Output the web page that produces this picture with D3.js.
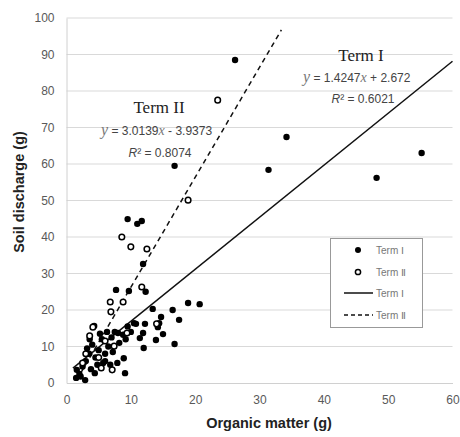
<!DOCTYPE html>
<html><head><meta charset="utf-8">
<script src="https://cdn.jsdelivr.net/npm/d3@7"></script>
<style>body{margin:0;background:#fff}svg{display:block}</style>
</head><body>
<svg id="c" width="460" height="437"></svg>
<script>
const xTicks=[0,10,20,30,40,50,60];
const yTicks=[0,10,20,30,40,50,60,70,80,90,100];
const term1X=[26.2,34.2,31.4,48.2,55.2,16.8,9.5,11.0,11.7,11.9,12.3,7.7,9.7,13.4,16.5,18.9,20.7,17.5,14.7,14.4,14.2,15.0,13.9,16.8,12.0,11.4,11.9,10.8,12.2,10.5,8.8,8.0,8.9,7.9,9.1,5.7,4.4,2.9,1.5,1.6,4.3,2.0,2.5,3.0,3.5,3.2,4.0,4.5,5.0,5.5,6.0,6.5,7.0,7.5,6.0,4.8,3.8,2.2,3.6,5.2,6.3,9.2,10.0,8.2,7.2,6.8,9.5];
const term1Y=[88.5,67.4,58.4,56.2,63.0,59.5,44.9,43.6,44.4,32.6,25.0,25.5,25.2,20.3,20.0,21.9,21.6,17.3,18.1,16.4,15.3,13.4,11.8,10.7,9.6,12.3,13.7,16.2,16.2,16.4,13.2,13.7,6.8,5.5,2.7,5.5,2.7,0.8,1.4,3.6,15.6,2.5,4.5,6.0,8.0,9.5,10.5,7.0,9.0,12.0,8.0,10.0,12.5,14.0,6.0,5.0,3.8,1.8,12.0,13.5,14.0,12.0,14.0,11.0,8.5,5.0,15.5];
const term2X=[23.5,18.9,8.6,10.0,12.5,11.7,6.8,8.8,6.9,9.4,7.4,4.1,3.6,14.0,7.1,5.4,3.0,5.0,2.5,6.0];
const term2Y=[77.5,50.1,40.0,37.3,36.7,26.3,22.2,22.2,19.5,13.7,10.1,15.3,12.9,16.2,3.6,4.1,8.0,7.0,5.5,11.5];
const fit1=[1.4247,2.672], fit1Range=[1,60];
const fit2=[3.0139,-3.9373], fit2Range=[2.2,33.4];
const legendLabels=["Term Ⅰ","Term Ⅱ","Term Ⅰ","Term Ⅱ"];

const svg=d3.select("#c");
const x=d3.scaleLinear().domain([0,60]).range([66.5,452.5]);
const y=d3.scaleLinear().domain([0,100]).range([383,18]);
const g=svg.append("g");
g.selectAll(".grid").data(yTicks.slice(1)).enter().append("line")
 .attr("x1",x(0)).attr("x2",x(60)).attr("y1",d=>y(d)).attr("y2",d=>y(d))
 .attr("stroke","#d9d9d9").attr("stroke-width",1);
const yAxis=d3.axisLeft(y).tickValues(yTicks).tickSize(0).tickPadding(12);
const xAxis=d3.axisBottom(x).tickValues(xTicks).tickSize(0).tickPadding(12);
const ya=svg.append("g").attr("transform",`translate(${x(0)},0)`).call(yAxis);
const xa=svg.append("g").attr("transform",`translate(0,${y(0)})`).call(xAxis);
[ya,xa].forEach(a=>{a.select(".domain").attr("stroke","#d0d0d0");
 a.selectAll("text").attr("fill","#595959").style("font-family","Liberation Sans, Arial, sans-serif").style("font-size","12px");});
const lineGen=d3.line().x(d=>x(d[0])).y(d=>y(d[1]));
svg.append("path").datum(fit1Range.map(v=>[v,fit1[0]*v+fit1[1]]))
 .attr("d",lineGen).attr("stroke","#111").attr("stroke-width",1.5).attr("fill","none");
svg.append("path").datum(fit2Range.map(v=>[v,fit2[0]*v+fit2[1]]))
 .attr("d",lineGen).attr("stroke","#111").attr("stroke-width",1.5).attr("stroke-dasharray","5,4").attr("fill","none");
svg.append("g").selectAll("circle").data(term1X.map((v,i)=>[v,term1Y[i]])).enter().append("circle")
 .attr("cx",d=>x(d[0])).attr("cy",d=>y(d[1])).attr("r",3.2).attr("fill","#000");
svg.append("g").selectAll("circle").data(term2X.map((v,i)=>[v,term2Y[i]])).enter().append("circle")
 .attr("cx",d=>x(d[0])).attr("cy",d=>y(d[1])).attr("r",2.8).attr("fill","#fff").attr("stroke","#000").attr("stroke-width",1.5);
const serif="Liberation Serif, Times New Roman, serif";
const narrow="Liberation Sans Narrow, Liberation Sans, Arial, sans-serif";
function ann(tx,ty,parts,anchor,col){
 const t=svg.append("text").attr("x",tx).attr("y",ty).attr("text-anchor",anchor||"start").attr("fill",col||"#444");
 parts.forEach(p=>t.append("tspan").text(p[0]).style("font-family",p[1]).style("font-size",p[2]+"px").style("font-style",p[3]||"normal").attr("fill",p[4]||null));
 return t;}
ann(361,61,[["Term I",serif,17]],"middle","#222");
ann(303,82,[["y",serif,16,"italic","#777"],["  = 1.4247",narrow,12],["x",serif,14,"italic","#777"],["  + 2.672",narrow,12]]);
ann(363,103,[["R",narrow,12,"italic"],["² = 0.6021",narrow,12]],"middle");
ann(159,113,[["Term II",serif,17]],"middle","#222");
ann(101,135,[["y",serif,16,"italic","#777"],["  = 3.0139",narrow,12],["x",serif,14,"italic","#777"],[" - 3.9373",narrow,12]]);
ann(160,157,[["R",narrow,12,"italic"],["² = 0.8074",narrow,12]],"middle");
const lg=svg.append("g");
lg.append("rect").attr("x",330.5).attr("y",238.5).attr("width",92).attr("height",89).attr("fill","#fff").attr("stroke","#999");
const ly=[250,272,293,315];
lg.append("circle").attr("cx",358).attr("cy",ly[0]).attr("r",3).attr("fill","#000");
lg.append("circle").attr("cx",358).attr("cy",ly[1]).attr("r",2.6).attr("fill","#fff").attr("stroke","#000").attr("stroke-width",1.5);
lg.append("line").attr("x1",344).attr("x2",373).attr("y1",ly[2]).attr("y2",ly[2]).attr("stroke","#111").attr("stroke-width",1.5);
lg.append("line").attr("x1",344).attr("x2",373).attr("y1",ly[3]).attr("y2",ly[3]).attr("stroke","#111").attr("stroke-width",1.5).attr("stroke-dasharray","4,3");
lg.selectAll(".lt").data(legendLabels).enter().append("text").attr("x",376).attr("y",(d,i)=>ly[i]+3.5)
 .text(d=>d).attr("fill","#777").style("font-family","Liberation Sans Narrow, Liberation Sans, sans-serif").style("font-size","10px");
svg.append("text").attr("x",269).attr("y",428).attr("text-anchor","middle").text("Organic matter (g)")
 .style("font-family","Liberation Sans, Arial, sans-serif").style("font-weight","bold").style("font-size","14.5px").attr("fill","#222");
svg.append("text").attr("transform","translate(24,192) rotate(-90)").attr("text-anchor","middle").text("Soil discharge (g)")
 .style("font-family","Liberation Sans, Arial, sans-serif").style("font-weight","bold").style("font-size","14.5px").attr("fill","#222");
</script>
</body></html>
